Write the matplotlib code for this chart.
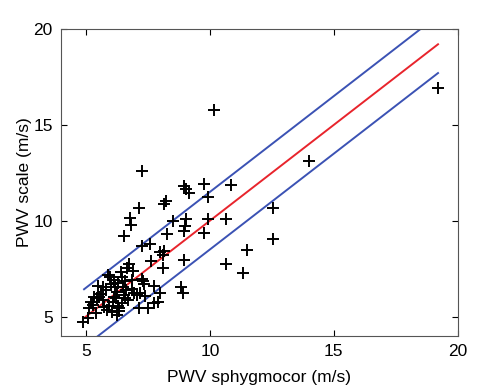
import matplotlib
matplotlib.use("Agg")
import matplotlib.pyplot as plt
import numpy as np

plt.rcParams['font.family'] = ['Liberation Sans', 'DejaVu Sans']

# Data
pwv_sphygmocor = [
    19.2, 10.15, 14.0, 7.27, 9.76, 10.84, 8.96, 9.04, 9.17, 9.91,
    8.23, 8.15, 7.13, 12.53, 6.80, 6.82, 8.52, 9.04, 9.91, 10.64,
    9.00, 8.97, 9.76, 8.28, 6.53, 12.53, 7.27, 7.58, 7.99, 8.15,
    8.10, 11.50, 7.61, 8.96, 8.10, 10.64, 11.34, 6.75, 6.67, 5.88,
    5.97, 6.40, 8.83, 8.91, 7.99, 7.77, 7.30, 7.35, 6.88, 7.07,
    7.15, 7.52, 7.77, 7.93, 4.88, 5.08, 5.43, 5.13, 5.22, 5.50,
    5.54, 5.70, 5.86, 6.04, 6.26, 6.35, 6.44, 6.10, 5.81, 6.17,
    6.24, 6.53, 6.64, 6.94, 6.71, 6.51, 6.57, 6.13, 6.30, 5.70,
    5.34, 7.18, 6.44, 5.30, 5.95, 6.20, 6.60, 7.40, 5.60, 6.00,
    6.35, 6.85, 5.75, 6.15, 7.25, 6.90, 5.45, 6.30,
]
pwv_scale = [
    16.9, 15.8, 13.1, 12.6, 11.9, 11.87, 11.81, 11.64, 11.43, 11.26,
    11.05, 10.85, 10.65, 10.69, 10.13, 9.78, 10.0, 10.1, 10.08, 10.09,
    9.74, 9.45, 9.35, 9.31, 9.21, 9.03, 8.69, 8.79, 8.39, 8.44,
    8.22, 8.48, 7.92, 7.96, 7.52, 7.75, 7.30, 7.75, 7.55, 7.17,
    7.09, 7.35, 6.53, 6.22, 6.22, 6.62, 6.85, 6.72, 6.91, 6.13,
    5.43, 5.43, 5.70, 5.78, 4.74, 4.91, 5.17, 5.43, 5.78, 6.60,
    6.04, 5.87, 5.35, 5.26, 5.09, 5.43, 5.70, 5.78, 6.39, 6.57,
    6.30, 6.13, 6.39, 6.22, 5.87, 6.57, 6.86, 6.91, 6.74, 6.57,
    6.04, 6.25, 7.05, 5.60, 5.55, 5.95, 6.00, 6.10, 6.20, 6.70,
    5.30, 6.45, 5.50, 6.05, 6.95, 7.40, 5.95, 5.55,
]
fit_x = [4.93, 19.2]
limit_offset = 1.5
x_ticks = [5, 10, 15, 20]
y_ticks = [5, 10, 15, 20]

fig = plt.figure(figsize=(4.84, 3.91), dpi=100)
ax = fig.add_axes([0.126, 0.141, 0.820, 0.785])

fx = np.array(fit_x)
ax.plot(fx, fx, color='#e8242c', lw=1.4)
ax.plot(fx, fx + limit_offset, color='#3b52b4', lw=1.4)
ax.plot(fx, fx - limit_offset, color='#3b52b4', lw=1.4)
ax.plot(pwv_sphygmocor, pwv_scale, linestyle='none', marker='+', color='black',
        markersize=8, markeredgewidth=1.4)

ax.set_xlim(4, 20)
ax.set_ylim(4, 20)
ax.set_xticks(x_ticks)
ax.set_yticks(y_ticks)
ax.tick_params(direction='in', top=True, right=True, length=4, width=0.8,
               labelsize=12.5, colors='black', pad=6)
for s in ax.spines.values():
    s.set_linewidth(0.8)
    s.set_color('#555555')
ax.set_xlabel('PWV sphygmocor (m/s)', fontsize=12.5, labelpad=8)
ax.set_ylabel('PWV scale (m/s)', fontsize=12.5, labelpad=1)

fig.savefig('out.png', dpi=100)
